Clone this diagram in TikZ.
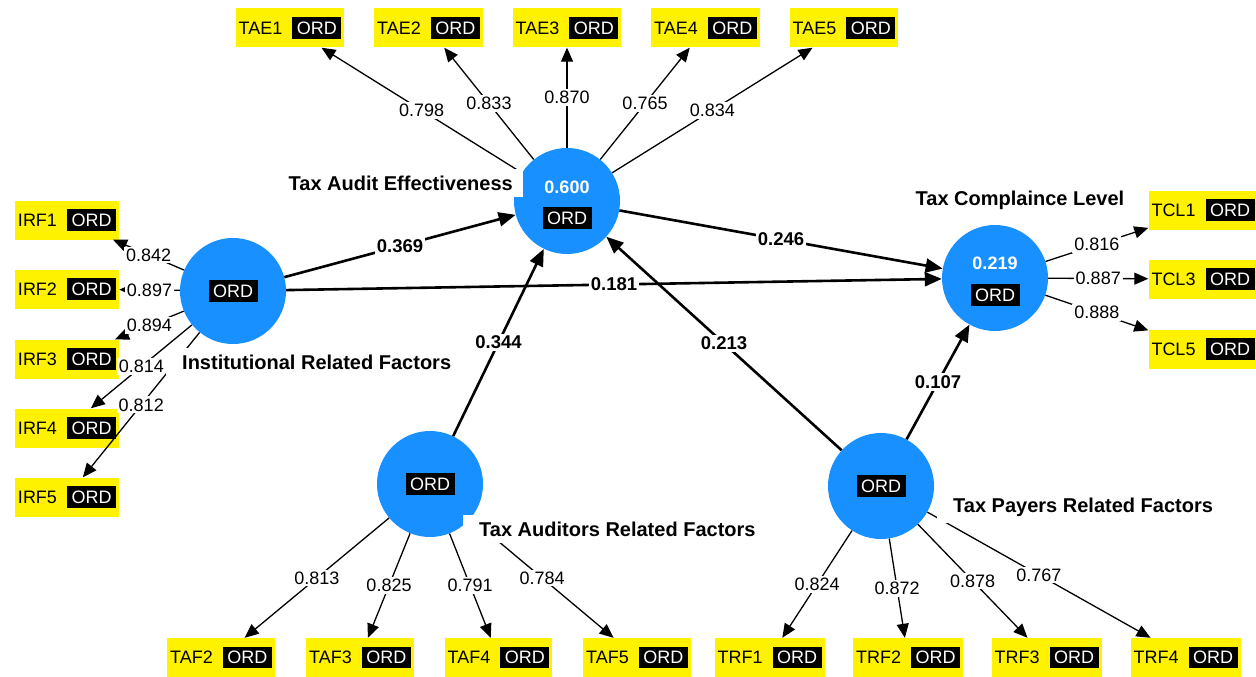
\documentclass[tikz,border=0pt]{standalone}
\usepackage{fontspec}
\setmainfont{Liberation Sans}
\usetikzlibrary{arrows.meta}
\definecolor{lvblue}{RGB}{24,144,255}
\newcommand{\ordtag}{{\setlength{\fboxsep}{4.5pt}\colorbox{black}{\color{white}ORD}}}
\tikzset{
  lv/.style={circle,fill=lvblue,minimum size=106pt,inner sep=0pt,font=\fontsize{18pt}{20pt}\selectfont},
  lvtag/.style={inner sep=0pt,font=\fontsize{18pt}{20pt}\selectfont},
  ind/.style={fill=yellow,minimum height=39pt,inner xsep=3pt,inner ysep=0pt,font=\fontsize{18pt}{20pt}\selectfont},
  load/.style={line width=1.3pt,-{Triangle[length=14pt,width=12pt]}},
  rel/.style={line width=2.6pt,-{Triangle[length=17pt,width=14pt]}},
  ldval/.style={fill=white,inner sep=2pt,font=\fontsize{18pt}{20pt}\selectfont},
  relval/.style={fill=white,inner sep=2pt,font=\fontsize{18.5pt}{20pt}\selectfont\bfseries},
  lvname/.style={fill=white,inner xsep=16pt,inner ysep=7pt,font=\fontsize{20pt}{22pt}\selectfont\bfseries},
  rsq/.style={text=white,inner sep=0pt,font=\fontsize{18pt}{20pt}\selectfont\bfseries}
}
\begin{document}
\begin{tikzpicture}[x=1pt,y=-1pt]
		\useasboundingbox (0,0) rectangle (1256,677);
		% latent variables
		\node[lv] (tae) at (567,201) {};
		\node[rsq] (tae-r2) at ([yshift=14pt]tae.center) {0.600};
		\node[lvtag] (tae-ord) at ([yshift=-17pt]tae.center) {\ordtag};
		\node[lv] (tcl) at (995,278) {};
		\node[rsq] (tcl-r2) at ([yshift=15pt]tcl.center) {0.219};
		\node[lvtag] (tcl-ord) at ([yshift=-17pt]tcl.center) {\ordtag};
		\node[lv] (irf) at (233,291) {\ordtag};
		\node[lv] (taf) at (430,484) {\ordtag};
		\node[lv] (trf) at (881,486) {\ordtag};
		% indicators
		\node[ind] (tae1) at (290,28) {TAE1\hspace{10pt}\ordtag};
		\node[ind] (tae2) at (428.5,28) {TAE2\hspace{10pt}\ordtag};
		\node[ind] (tae3) at (567,28) {TAE3\hspace{10pt}\ordtag};
		\node[ind] (tae4) at (705.5,28) {TAE4\hspace{10pt}\ordtag};
		\node[ind] (tae5) at (844,28) {TAE5\hspace{10pt}\ordtag};
		\node[ind] (irf1) at (67,220) {IRF1\hspace{10pt}\ordtag};
		\node[ind] (irf2) at (67,289) {IRF2\hspace{10pt}\ordtag};
		\node[ind] (irf3) at (67,359) {IRF3\hspace{10pt}\ordtag};
		\node[ind] (irf4) at (67,428) {IRF4\hspace{10pt}\ordtag};
		\node[ind] (irf5) at (67,497) {IRF5\hspace{10pt}\ordtag};
		\node[ind] (tcl1) at (1203,210) {TCL1\hspace{10pt}\ordtag};
		\node[ind] (tcl3) at (1203,279) {TCL3\hspace{10pt}\ordtag};
		\node[ind] (tcl5) at (1203,349) {TCL5\hspace{10pt}\ordtag};
		\node[ind] (taf2) at (221,657.5) {TAF2\hspace{10pt}\ordtag};
		\node[ind] (taf3) at (360,657.5) {TAF3\hspace{10pt}\ordtag};
		\node[ind] (taf4) at (498.5,657.5) {TAF4\hspace{10pt}\ordtag};
		\node[ind] (taf5) at (637,657.5) {TAF5\hspace{10pt}\ordtag};
		\node[ind] (trf1) at (769.5,657.5) {TRF1\hspace{10pt}\ordtag};
		\node[ind] (trf2) at (908,657.5) {TRF2\hspace{10pt}\ordtag};
		\node[ind] (trf3) at (1046.5,657.5) {TRF3\hspace{10pt}\ordtag};
		\node[ind] (trf4) at (1185.5,657.5) {TRF4\hspace{10pt}\ordtag};
		% outer loadings
		\draw[load] (tae) -- node[ldval]{0.798} (tae1);
		\draw[load] (tae) -- node[ldval]{0.833} (tae2);
		\draw[load] (tae) -- node[ldval]{0.870} (tae3);
		\draw[load] (tae) -- node[ldval]{0.765} (tae4);
		\draw[load] (tae) -- node[ldval]{0.834} (tae5);
		\draw[load] (irf) -- node[ldval]{0.842} (irf1);
		\draw[load] (irf) -- node[ldval]{0.897} (irf2);
		\draw[load] (irf) -- node[ldval]{0.894} (irf3);
		\draw[load] (irf) -- node[ldval]{0.814} (irf4);
		\draw[load] (irf) -- node[ldval]{0.812} (irf5);
		\draw[load] (tcl) -- node[ldval]{0.816} (tcl1);
		\draw[load] (tcl) -- node[ldval]{0.887} (tcl3);
		\draw[load] (tcl) -- node[ldval]{0.888} (tcl5);
		\draw[load] (taf) -- node[ldval]{0.813} (taf2);
		\draw[load] (taf) -- node[ldval]{0.825} (taf3);
		\draw[load] (taf) -- node[ldval]{0.791} (taf4);
		\draw[load] (taf) -- node[ldval]{0.784} (taf5);
		\draw[load] (trf) -- node[ldval]{0.824} (trf1);
		\draw[load] (trf) -- node[ldval]{0.872} (trf2);
		\draw[load] (trf) -- node[ldval]{0.878} (trf3);
		\draw[load] (trf) -- node[ldval]{0.767} (trf4);
		% path coefficients
		\draw[rel] (irf) -- node[relval]{0.369} (tae);
		\draw[rel] (tae) -- node[relval]{0.246} (tcl);
		\draw[rel] (irf) -- node[relval]{0.181} (tcl);
		\draw[rel] (taf) -- node[relval]{0.344} (tae);
		\draw[rel] (trf) -- node[relval]{0.213} (tae);
		\draw[rel] (trf) -- node[relval]{0.107} (tcl);
		% construct names
		\node[lvname,anchor=east,inner xsep=10pt] (tae-name) at (523,183) {Tax Audit Effectiveness};
		\node[lvname,anchor=west] (irf-name) at (166,362) {Institutional Related Factors};
		\node[lvname] (tcl-name) at (1020,200) {Tax Complaince Level};
		\node[lvname,anchor=west] (taf-name) at (463,529) {Tax Auditors Related Factors};
		\node[lvname,anchor=west] (trf-name) at (937,507) {Tax Payers Related Factors};
	    \end{tikzpicture}
\end{document}
